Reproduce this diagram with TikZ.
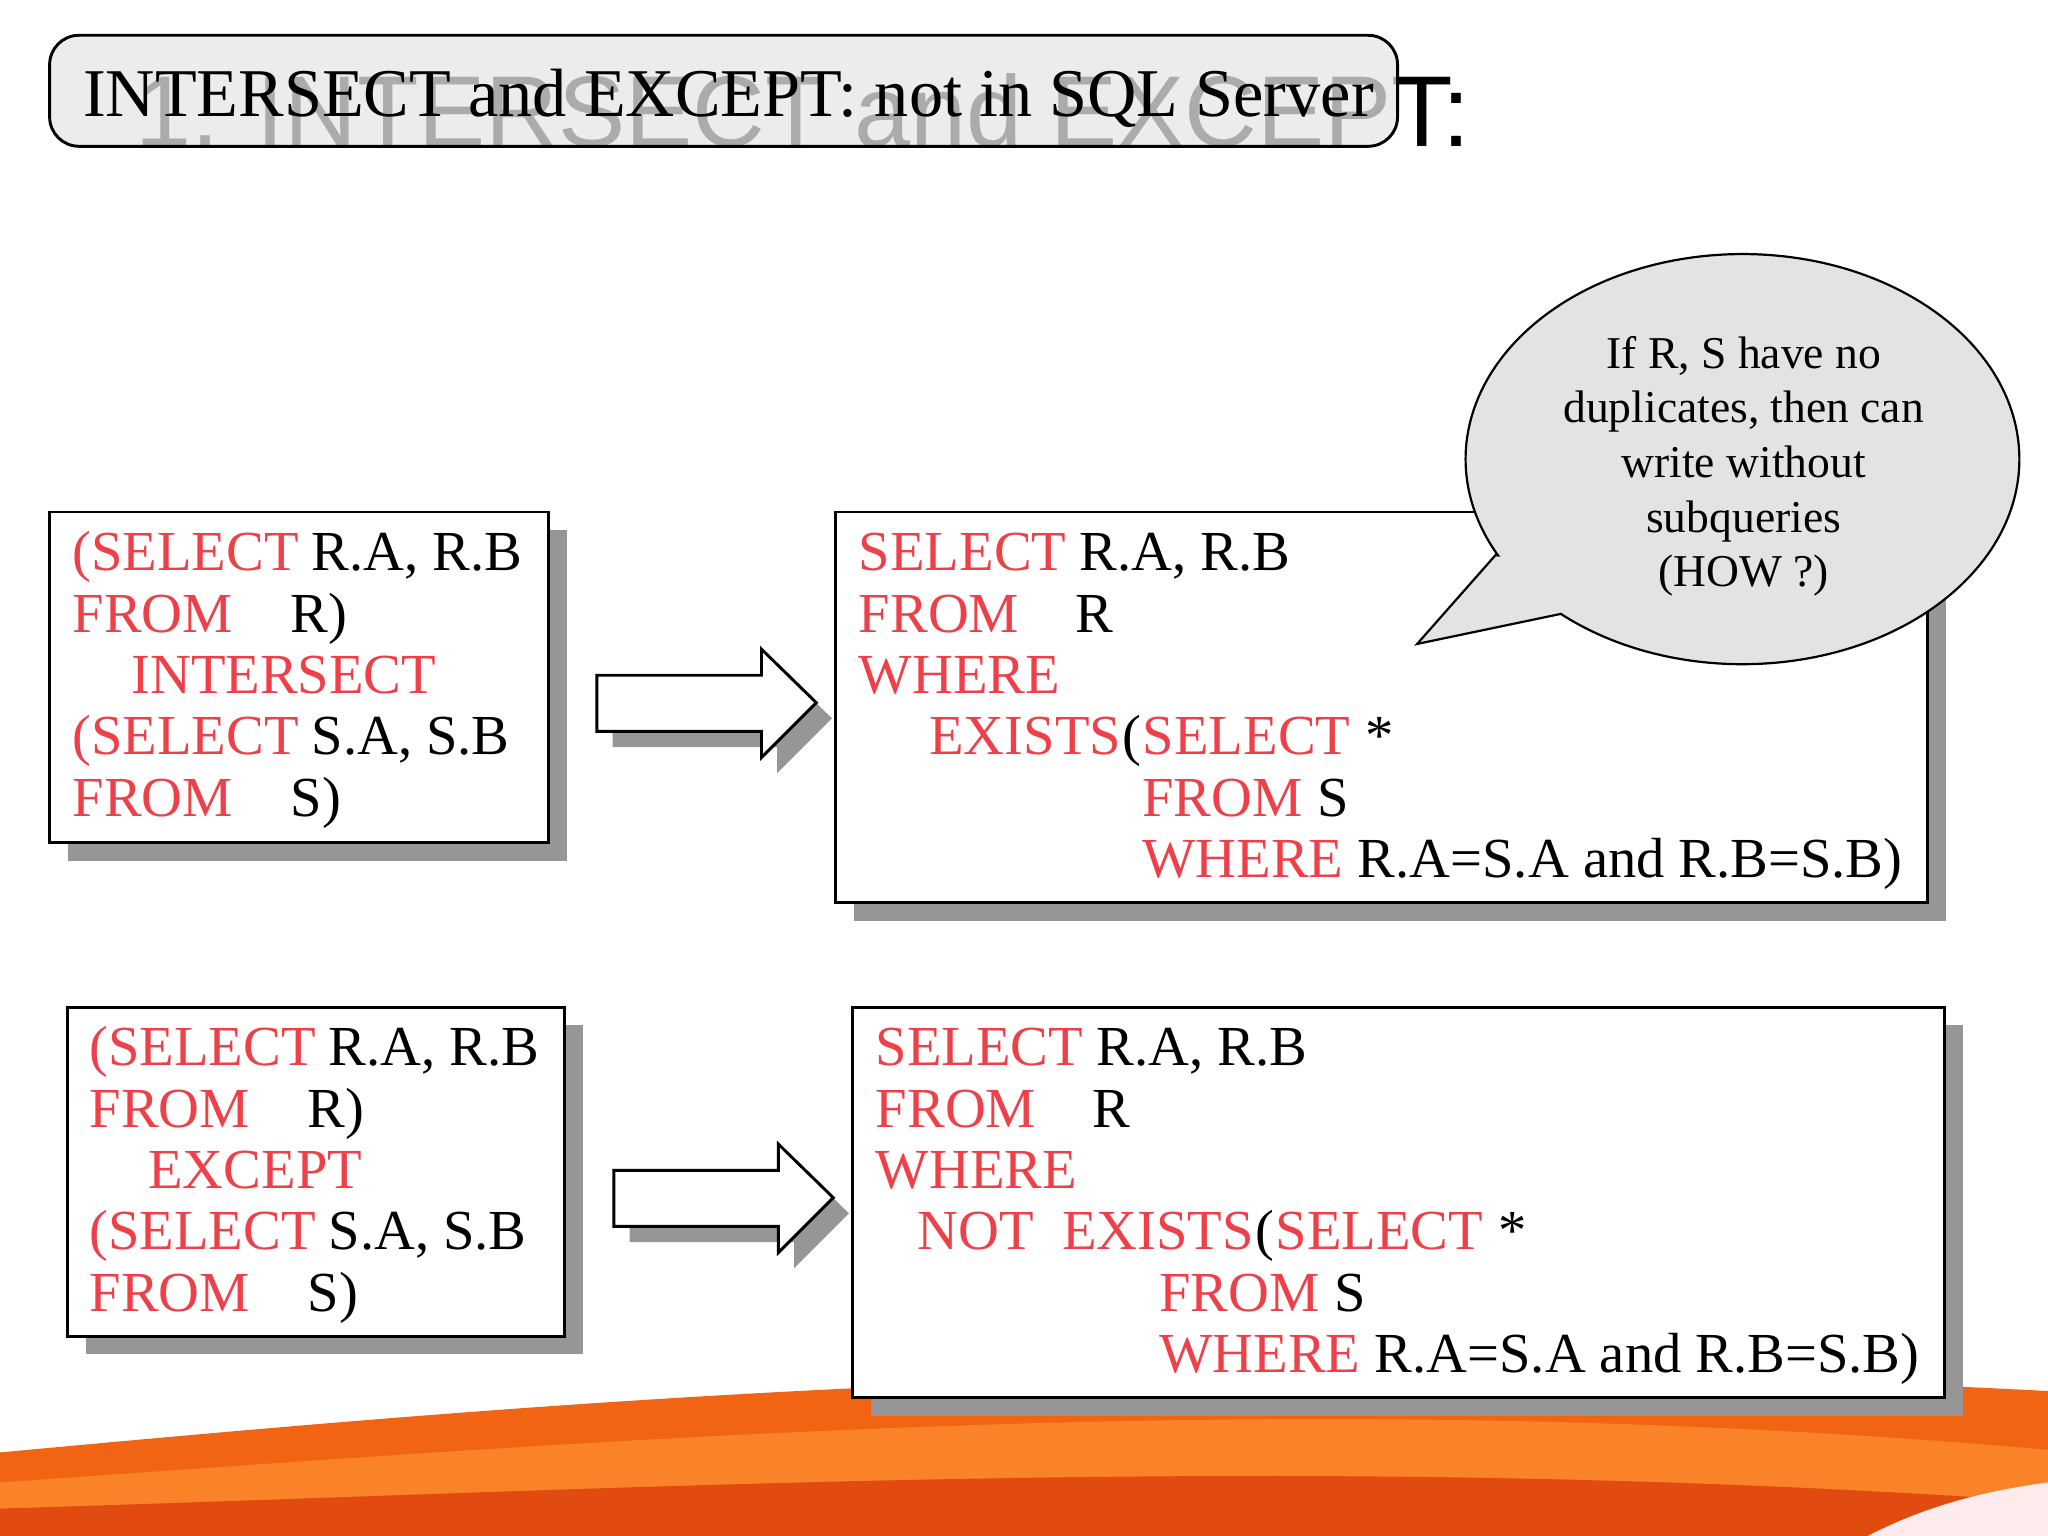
\documentclass[tikz,border=0pt]{standalone}
\usepackage{fontspec}
\setmainfont{Liberation Serif}
\newfontfamily\ttl{Liberation Sans}
\definecolor{sqlred}{RGB}{238,64,72}
\definecolor{shad}{RGB}{150,150,150}
\definecolor{or1}{RGB}{240,100,20}
\definecolor{or2}{RGB}{250,130,40}
\definecolor{or3}{RGB}{225,75,15}
\tikzset{
 code/.style={anchor=base west,inner sep=0,font=\fontsize{15.4pt}{16pt}\selectfont},
 kw/.style={code,text=sqlred},
 box/.style={draw=black,line width=0.8pt,fill=white},
 shbox/.style={fill=shad},
}
\begin{document}
\begin{tikzpicture}[x=0.0125cm,y=-0.0125cm]
\useasboundingbox (0,0) rectangle (1568,1176);
% swoosh
\fill[or1] (0,1176) -- (0,1112) .. controls (400,1075) and (900,1030) .. (1568,1065) -- (1568,1176) -- cycle;
\fill[or2] (0,1176) -- (0,1135) .. controls (500,1100) and (1000,1060) .. (1568,1110) -- (1568,1176) -- cycle;
\fill[or3] (0,1176) -- (0,1155) .. controls (500,1140) and (1000,1110) .. (1568,1150) -- (1568,1176) -- cycle;
\fill[red!8] (1430,1176) .. controls (1480,1150) and (1530,1140) .. (1568,1135) -- (1568,1176) -- cycle;
% title
\node[anchor=base west,inner sep=0,font=\ttl\fontsize{27.4pt}{30pt}\selectfont] (title) at (103,112) {1. INTERSECT and EXCEPT:};
\draw[rounded corners=8, fill=gray!20, fill opacity=0.75, line width=0.8pt] (38,27) rectangle (1070,112);
\node[anchor=base west,inner sep=0,font=\fontsize{18.6pt}{20pt}\selectfont] (sub) at (63,89) {INTERSECT and EXCEPT: not in SQL Server};
% boxes
\fill[shbox] (52,406) rectangle (434,659);
\draw[box] (38,392) rectangle (420,645);
\fill[shbox] (654,406) rectangle (1490,705);
\draw[box] (640,392) rectangle (1476,691);
\fill[shbox] (66,785) rectangle (446,1037);
\draw[box] (52,771) rectangle (432,1023);
\fill[shbox] (667,785) rectangle (1503,1084);
\draw[box] (653,771) rectangle (1489,1070);
% arrows
\foreach \dx/\dy in {0/0, 13/379}{
 \fill[shad] (457+\dx+12,517+\dy+12) -- (583+\dx+12,517+\dy+12) -- (583+\dx+12,497+\dy+12) -- (625+\dx+12,538+\dy+12) -- (583+\dx+12,580+\dy+12) -- (583+\dx+12,560+\dy+12) -- (457+\dx+12,560+\dy+12) -- cycle;
 \draw[fill=white,line width=0.8pt] (457+\dx,517+\dy) -- (583+\dx,517+\dy) -- (583+\dx,497+\dy) -- (625+\dx,538+\dy) -- (583+\dx,580+\dy) -- (583+\dx,560+\dy) -- (457+\dx,560+\dy) -- cycle;
}
% box1
\node[kw] (a1) at (55,437) {(SELECT}; \node[code] (a1b) at (238,437) {R.A, R.B};
\node[kw] (a2) at (55,484) {FROM}; \node[code] (a2b) at (222,484) {R)};
\node[kw] (a3) at (100,531) {INTERSECT};
\node[kw] (a4) at (55,578) {(SELECT}; \node[code] (a4b) at (238,578) {S.A, S.B};
\node[kw] (a5) at (55,625) {FROM}; \node[code] (a5b) at (222,625) {S)};
% box3
\node[kw] (c1) at (68,816) {(SELECT}; \node[code] (c1b) at (251,816) {R.A, R.B};
\node[kw] (c2) at (68,863) {FROM}; \node[code] (c2b) at (235,863) {R)};
\node[kw] (c3) at (113,910) {EXCEPT};
\node[kw] (c4) at (68,957) {(SELECT}; \node[code] (c4b) at (251,957) {S.A, S.B};
\node[kw] (c5) at (68,1004) {FROM}; \node[code] (c5b) at (235,1004) {S)};
% box2
\node[kw] (b1) at (657,437) {SELECT}; \node[code] (b1b) at (826,437) {R.A, R.B};
\node[kw] (b2) at (657,484) {FROM}; \node[code] (b2b) at (823,484) {R};
\node[kw] (b3) at (657,531) {WHERE};
\node[kw] (b4) at (711,578) {EXISTS}; \node[code] (b4b) at (b4.base east) {(}; \node[kw] (b4c) at (b4b.base east) {SELECT}; \node[code] (b4d) at (1045,578) {*};
\node[kw] (b5) at (874,625) {FROM}; \node[code] (b5b) at (1008,625) {S};
\node[kw] (b6) at (874,672) {WHERE}; \node[code] (b6b) at (1039,672) {R.A=S.A and R.B=S.B)};
% box4
\node[kw] (d1) at (670,816) {SELECT}; \node[code] (d1b) at (839,816) {R.A, R.B};
\node[kw] (d2) at (670,863) {FROM}; \node[code] (d2b) at (836,863) {R};
\node[kw] (d3) at (670,910) {WHERE};
\node[kw] (d4) at (702,957) {NOT\ \ EXISTS}; \node[code] (d4b) at (d4.base east) {(}; \node[kw] (d4c) at (d4b.base east) {SELECT}; \node[code] (d4d) at (1147,957) {*};
\node[kw] (d5) at (887,1004) {FROM}; \node[code] (d5b) at (1021,1004) {S};
\node[kw] (d6) at (887,1051) {WHERE}; \node[code] (d6b) at (1052,1051) {R.A=S.A and R.B=S.B)};
% callout
\draw[fill=gray!22,line width=0.6pt] (1145,425) -- (1085,493) -- (1195,470)
  arc[start angle=131, end angle=-208, x radius=212, y radius=157] -- cycle;
\node[align=center,font=\fontsize{12.4pt}{14.9pt}\selectfont,inner sep=0] (call) at (1335,357)
 {If R, S have no\\duplicates, then can\\write without\\subqueries\\(HOW ?)};
\end{tikzpicture}
\end{document}
